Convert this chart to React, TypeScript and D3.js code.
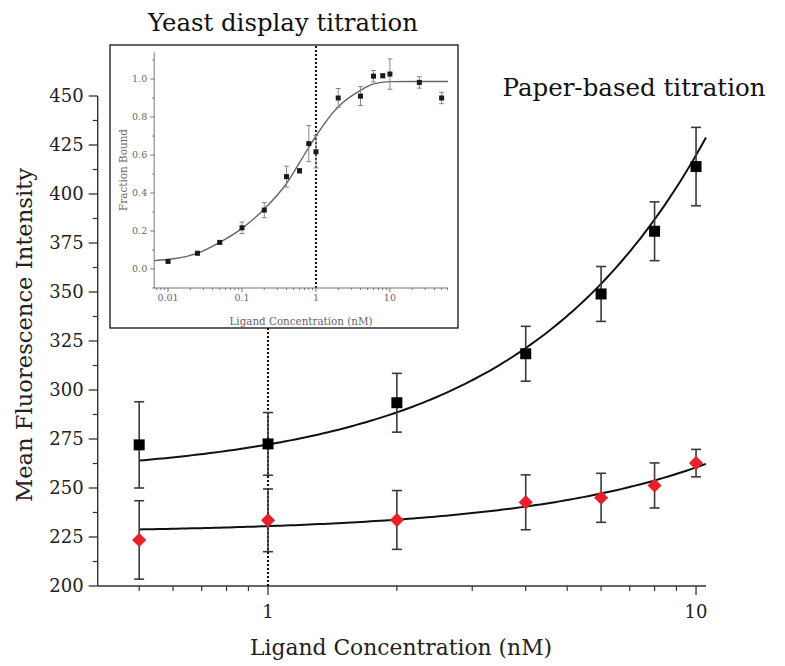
import React from 'react';
import * as d3 from 'd3';

// paper-based titration (main plot)
const paperConc = [0.5, 1, 2, 4, 6, 8, 10];
const paperBlack = [272, 272.5, 293.5, 318.5, 349, 381, 414];
const paperBlackErr = [22, 16, 15, 14, 14, 15, 20];
const paperRed = [223.5, 233.5, 233.7, 242.7, 245, 251.3, 262.7];
const paperRedErr = [20, 16, 15, 14, 12.5, 11.5, 7];
// linear fits (intercept, slope)
const blackFit = [255.8, 16.4];
const redFit = [227.2, 3.33];
const yTicks = [200, 225, 250, 275, 300, 325, 350, 375, 400, 425, 450];
const xTickLabels = [1, 10];

// yeast display titration (inset)
const yeastConc = [0.01, 0.025, 0.05, 0.1, 0.2, 0.4, 0.6, 0.8, 1, 2, 4, 6, 8, 10, 25, 50];
const yeastBound = [0.04, 0.083, 0.14, 0.217, 0.31, 0.486, 0.517, 0.66, 0.617, 0.9, 0.91, 1.015, 1.017, 1.026, 0.982, 0.9];
const yeastErr = [0.008, 0.008, 0.008, 0.03, 0.04, 0.055, 0.012, 0.095, 0.085, 0.05, 0.05, 0.03, 0.01, 0.08, 0.03, 0.03];
const yeastFitConc = [0.0065, 0.01, 0.025, 0.05, 0.1, 0.2, 0.4, 0.6, 0.8, 1, 2, 4, 6, 10, 20, 61];
const yeastFitBound = [0.044, 0.05, 0.083, 0.14, 0.214, 0.316, 0.45, 0.56, 0.64, 0.7, 0.854, 0.94, 0.974, 0.986, 0.987, 0.987];
const insetYTicks = [0, 0.2, 0.4, 0.6, 0.8, 1.0];
const insetXTicks = [0.01, 0.1, 1, 10];

const FONT = 'DejaVu Serif';

function minorLogTicks(lo: number, hi: number) {
  const out: number[] = [];
  for (let e = -3; e <= 2; e++) {
    for (let m = 1; m <= 9; m++) {
      const v = m * Math.pow(10, e);
      if (v >= lo && v <= hi) out.push(v);
    }
  }
  return out;
}

export default function App() {
  // main scales
  const x = d3.scaleLog().domain([0.4, 10.55]).range([97.7, 706]);
  const y = d3.scaleLinear().domain([200, 450]).range([586, 96]);

  // inset scales
  const xi = d3.scaleLog().domain([0.0065, 61]).range([154.2, 448]);
  const yi = d3.scaleLinear().domain([-0.1, 1.14]).range([288, 52.4]);

  const fitLine = (p: number[]) =>
    d3.line<number>()
      .x(d => x(d))
      .y(d => y(p[0] + p[1] * d))(d3.range(0, 121).map(i => 0.5 * Math.pow(10.55 / 0.5, i / 120)));

  const insetLine = d3.line<number>()
    .x((d, i) => xi(yeastFitConc[i]))
    .y(d => yi(d))
    .curve(d3.curveMonotoneX)(yeastFitBound);

  const xMinor = minorLogTicks(0.45, 10.5).filter(v => !xTickLabels.includes(v));
  const yMinor = d3.range(212.5, 450, 25);
  const insetXMinor = minorLogTicks(0.0066, 60).filter(v => !insetXTicks.includes(v));
  const insetYMinor = d3.range(-0.1, 1.15, 0.2).map(v => +v.toFixed(2));

  const axisColor = '#333';
  const insetGray = '#777';

  return (
    <svg width={785} height={666} style={{ position: 'absolute', left: 0, top: 0, background: '#fff' }}
      fontFamily={FONT}>
      {/* titles */}
      <text x={283} y={31} fontSize={24} textAnchor="middle" textLength={270} lengthAdjust="spacingAndGlyphs" fill="#111">
        Yeast display titration
      </text>
      <text x={634} y={96} fontSize={24} textAnchor="middle" textLength={263} lengthAdjust="spacingAndGlyphs" fill="#111">
        Paper-based titration
      </text>

      {/* main axes */}
      <line x1={x(0.4)} x2={x(0.4)} y1={y(450)} y2={y(200)} stroke={axisColor} strokeWidth={1.4} />
      <line x1={x(0.4)} x2={x(10.55)} y1={y(200)} y2={y(200)} stroke={axisColor} strokeWidth={1.4} />
      {yTicks.map(t => (
        <g key={'yt' + t}>
          <line x1={x(0.4) - 9} x2={x(0.4)} y1={y(t)} y2={y(t)} stroke={axisColor} strokeWidth={1.3} />
          <text x={x(0.4) - 14} y={y(t)} dy="0.36em" fontSize={18} textAnchor="end" fill="#222">{t}</text>
        </g>
      ))}
      {yMinor.map(t => (
        <line key={'ym' + t} x1={x(0.4) - 5} x2={x(0.4)} y1={y(t)} y2={y(t)} stroke={axisColor} strokeWidth={1.2} />
      ))}
      {xTickLabels.map(t => (
        <g key={'xt' + t}>
          <line x1={x(t)} x2={x(t)} y1={y(200)} y2={y(200) + 9} stroke={axisColor} strokeWidth={1.3} />
          <text x={x(t)} y={618} fontSize={18} textAnchor="middle" fill="#222">{t}</text>
        </g>
      ))}
      {xMinor.map(t => (
        <line key={'xm' + t} x1={x(t)} x2={x(t)} y1={y(200)} y2={y(200) + 5} stroke={axisColor} strokeWidth={1.2} />
      ))}
      <text x={401} y={655} fontSize={22} textAnchor="middle" textLength={302} lengthAdjust="spacingAndGlyphs" fill="#222">
        Ligand Concentration (nM)
      </text>
      <text transform="translate(32,335) rotate(-90)" fontSize={23} textAnchor="middle" textLength={334}
        lengthAdjust="spacingAndGlyphs" fill="#222">
        Mean Fluorescence Intensity
      </text>

      {/* dotted marker at 1 nM */}
      <line x1={x(1)} x2={x(1)} y1={y(200)} y2={328} stroke="#111" strokeWidth={2} strokeDasharray="2,2" />

      {/* fits */}
      <path d={fitLine(blackFit) || ''} fill="none" stroke="#111" strokeWidth={2} />
      <path d={fitLine(redFit) || ''} fill="none" stroke="#111" strokeWidth={2} />

      {/* error bars */}
      {paperConc.map((c, i) => (
        <g key={'eb' + c} stroke="#3a3a3a" strokeWidth={1.6}>
          <line x1={x(c)} x2={x(c)} y1={y(paperBlack[i] + paperBlackErr[i])} y2={y(paperBlack[i] - paperBlackErr[i])} />
          <line x1={x(c) - 5} x2={x(c) + 5} y1={y(paperBlack[i] + paperBlackErr[i])} y2={y(paperBlack[i] + paperBlackErr[i])} />
          <line x1={x(c) - 5} x2={x(c) + 5} y1={y(paperBlack[i] - paperBlackErr[i])} y2={y(paperBlack[i] - paperBlackErr[i])} />
          <line x1={x(c)} x2={x(c)} y1={y(paperRed[i] + paperRedErr[i])} y2={y(paperRed[i] - paperRedErr[i])} />
          <line x1={x(c) - 5} x2={x(c) + 5} y1={y(paperRed[i] + paperRedErr[i])} y2={y(paperRed[i] + paperRedErr[i])} />
          <line x1={x(c) - 5} x2={x(c) + 5} y1={y(paperRed[i] - paperRedErr[i])} y2={y(paperRed[i] - paperRedErr[i])} />
        </g>
      ))}

      {/* markers */}
      {paperConc.map((c, i) => (
        <rect key={'sq' + c} x={x(c) - 5.5} y={y(paperBlack[i]) - 5.5} width={11} height={11} fill="#000" />
      ))}
      {paperConc.map((c, i) => (
        <rect key={'dm' + c} x={-5} y={-5} width={10} height={10} fill="#e8202a"
          transform={`translate(${x(c)},${y(paperRed[i])}) rotate(45)`} />
      ))}

      {/* inset */}
      <rect x={110} y={45} width={348} height={283} fill="#fff" stroke="#111" strokeWidth={1.3} />
      <line x1={xi(1)} x2={xi(1)} y1={46} y2={yi(-0.1)} stroke="#111" strokeWidth={2} strokeDasharray="2,2" />
      <line x1={xi.range()[0]} x2={xi.range()[0]} y1={yi(1.14)} y2={yi(-0.1)} stroke={insetGray} strokeWidth={1} />
      <line x1={xi.range()[0]} x2={xi.range()[1]} y1={yi(-0.1)} y2={yi(-0.1)} stroke={insetGray} strokeWidth={1} />
      {insetYTicks.map(t => (
        <g key={'iyt' + t}>
          <line x1={xi.range()[0] - 4} x2={xi.range()[0]} y1={yi(t)} y2={yi(t)} stroke={insetGray} />
          <text x={xi.range()[0] - 7} y={yi(t)} dy="0.35em" fontSize={9.5} textAnchor="end" fill="#666">{t.toFixed(1)}</text>
        </g>
      ))}
      {insetYMinor.map(t => (
        <line key={'iym' + t} x1={xi.range()[0] - 2} x2={xi.range()[0]} y1={yi(t)} y2={yi(t)} stroke={insetGray} />
      ))}
      {insetXTicks.map(t => (
        <g key={'ixt' + t}>
          <line x1={xi(t)} x2={xi(t)} y1={yi(-0.1)} y2={yi(-0.1) + 4} stroke={insetGray} />
          <text x={xi(t)} y={yi(-0.1) + 13} fontSize={9.5} textAnchor="middle" fill="#666">{t}</text>
        </g>
      ))}
      {insetXMinor.map(t => (
        <line key={'ixm' + t} x1={xi(t)} x2={xi(t)} y1={yi(-0.1)} y2={yi(-0.1) + 2} stroke={insetGray} />
      ))}
      <text x={301} y={325} fontSize={10.5} textAnchor="middle" textLength={143} lengthAdjust="spacingAndGlyphs" fill="#666">
        Ligand Concentration (nM)
      </text>
      <text transform="translate(127,170) rotate(-90)" fontSize={10.5} textAnchor="middle" textLength={82}
        lengthAdjust="spacingAndGlyphs" fill="#666">
        Fraction Bound
      </text>
      <path d={insetLine || ''} fill="none" stroke="#666" strokeWidth={1.4} />
      {yeastConc.map((c, i) => (
        <g key={'iy' + c} stroke="#888" strokeWidth={1}>
          <line x1={xi(c)} x2={xi(c)} y1={yi(yeastBound[i] + yeastErr[i])} y2={yi(yeastBound[i] - yeastErr[i])} />
          <line x1={xi(c) - 2.5} x2={xi(c) + 2.5} y1={yi(yeastBound[i] + yeastErr[i])} y2={yi(yeastBound[i] + yeastErr[i])} />
          <line x1={xi(c) - 2.5} x2={xi(c) + 2.5} y1={yi(yeastBound[i] - yeastErr[i])} y2={yi(yeastBound[i] - yeastErr[i])} />
        </g>
      ))}
      {yeastConc.map((c, i) => (
        <rect key={'ip' + c} x={xi(c) - 2.5} y={yi(yeastBound[i]) - 2.5} width={5} height={5} fill="#1a1a1a" />
      ))}
    </svg>
  );
}
